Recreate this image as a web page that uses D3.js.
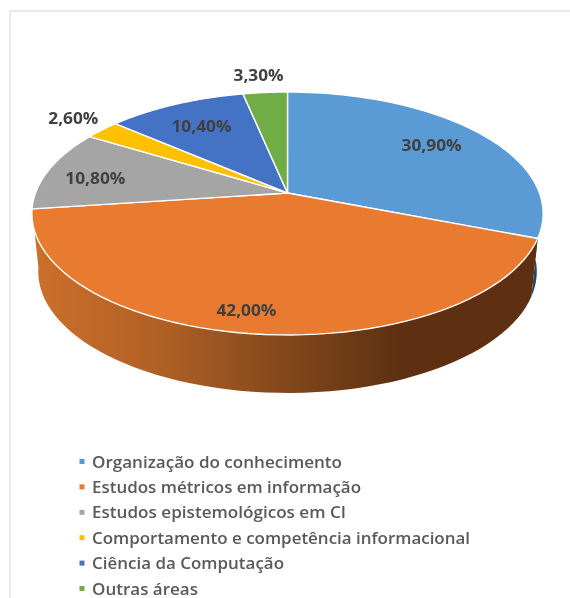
<!DOCTYPE html>
<html><head><meta charset="utf-8">
<script src="https://cdn.jsdelivr.net/npm/d3@7"></script>
<style>html,body{margin:0;background:#fff}svg{display:block;filter:blur(0.55px)}</style></head>
<body><div id="c"></div>
<script>
const categories=["Organização do conhecimento","Estudos métricos em informação","Estudos epistemológicos em CI","Comportamento e competência informacional","Ciência da Computação","Outras áreas"];
const values=[30.9,42.0,10.8,2.6,10.4,3.3];
const valueLabels=["30,90%","42,00%","10,80%","2,60%","10,40%","3,30%"];
const colors=["#5B9BD5","#E97B30","#A5A5A5","#FFC000","#4472C4","#70AD47"];

const W=570,H=598;
const svg=d3.select("#c").append("svg").attr("width",W).attr("height",H);
// chart frame
svg.append("path").attr("d","M570,11H10V598").attr("fill","none").attr("stroke","#e4e4e4").attr("stroke-width",1.5);

// projection of the pie disc: perspective circle; level 1 is the lower rim
const cx=287.5,cy=193,a=252,b=118,k=0.1687;
function project(theta,r,level){
  const u=r*Math.sin(theta),v=r*Math.cos(theta),d=1+k*v;
  const sx=level?0.975:1, dy=level?58:0;
  return [cx+sx*a*u/d, cy+dy-b*v/d];
}
const pie=d3.pie().sort(null).value(d=>d);
const arcs=pie(values);
const line=d3.line();
const deg=Math.PI/180;
const samples=(t0,t1,level)=>d3.range(0,61).map(i=>project(t0+(t1-t0)*i/60,1,level));

// gradient for the wall
const defs=svg.append("defs");
const g=defs.append("linearGradient").attr("id","wallOrange").attr("gradientUnits","userSpaceOnUse")
  .attr("x1",32).attr("x2",400).attr("y1",0).attr("y2",0);
g.selectAll("stop").data([[0,"#CC702B"],[0.35,"#B06025"],[0.7,"#80471B"],[1,"#5E3011"]]).join("stop")
  .attr("offset",d=>d[0]).attr("stop-color",d=>d[1]);

// walls
const wallFill=["#24456A","url(#wallOrange)"];
svg.selectAll("path.wall").data(arcs.slice(0,2)).join("path").attr("class","wall")
  .attr("fill",(d,i)=>wallFill[i])
  .attr("d",d=>{
    const t0=d.index===0?88*deg:d.startAngle,t1=d.endAngle;
    return line(samples(t0,t1,0).concat(samples(t1,t0,1)))+"Z";
  });

// tops
svg.selectAll("path.top").data(arcs).join("path").attr("class","top")
  .attr("fill",(d,i)=>colors[i]).attr("stroke","#fff").attr("stroke-width",1.4).attr("stroke-linejoin","round")
  .attr("d",d=>line([[cx,cy]].concat(samples(d.startAngle,d.endAngle,0)))+"Z");

// data labels, placed in disc coordinates: radial fraction and angle shift from slice middle
const labelRadius=[0.753,0.861,0.79,1.189,0.733,1.211];
const labelShift=[-1,2.5,-2.4,0.8,-0.4,-0.6];
const labelW=[60,60,60,50,60,50];
svg.selectAll("text.val").data(arcs).join("text").attr("class","val")
  .attr("text-anchor","middle").attr("dominant-baseline","central")
  .attr("font-family","'Open Sans',sans-serif").attr("font-weight",700).attr("font-size",15.5).attr("fill","#404040")
  .attr("textLength",(d,i)=>labelW[i]).attr("lengthAdjust","spacingAndGlyphs")
  .attr("x",d=>project((d.startAngle+d.endAngle)/2+labelShift[d.index]*deg,labelRadius[d.index],0)[0])
  .attr("y",d=>project((d.startAngle+d.endAngle)/2+labelShift[d.index]*deg,labelRadius[d.index],0)[1])
  .text((d,i)=>valueLabels[i]);

// legend
const legendY=d3.scalePoint().domain(categories).range([461.5,588.5]);
const legendW=[250,269,254,378,192,106];
const lg=svg.selectAll("g.lg").data(categories).join("g").attr("class","lg")
  .attr("transform",d=>`translate(0,${legendY(d)})`);
lg.append("rect").attr("x",79.5).attr("y",-2.5).attr("width",5).attr("height",5).attr("fill",(d,i)=>colors[i]);
lg.append("text").attr("x",92).attr("dominant-baseline","central")
  .attr("font-family","'Open Sans',sans-serif").attr("font-weight",600).attr("font-size",15.5).attr("fill","#595959")
  .attr("textLength",(d,i)=>legendW[i]).attr("lengthAdjust","spacingAndGlyphs")
  .text(d=>d);
</script></body></html>
